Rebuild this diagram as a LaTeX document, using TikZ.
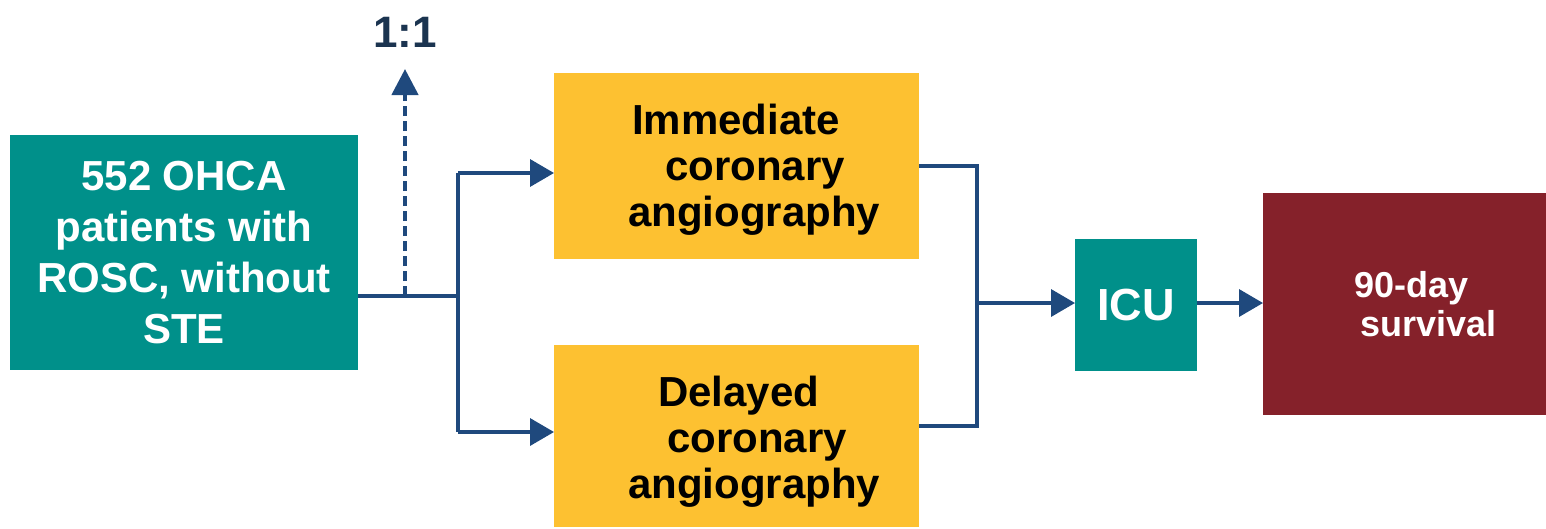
\documentclass[tikz,border=0pt]{standalone}
\usepackage{fontspec}
\setmainfont{Liberation Sans}
\usetikzlibrary{arrows.meta}
\definecolor{teal1}{HTML}{00908A}
\definecolor{gold1}{HTML}{FDC131}
\definecolor{wine}{HTML}{85212A}
\definecolor{navy}{HTML}{1F497D}
\definecolor{ink}{HTML}{1B3450}
\begin{document}
\begin{tikzpicture}[x=1pt,y=-1pt,
  box/.style={draw=none, inner sep=0pt, outer sep=0pt},
  ybox/.style={box, fill=gold1, minimum width=365pt},
  ytext/.style={inner sep=0pt, text=black, text width=305pt, align=left, font=\bfseries\fontsize{42}{46}\selectfont},
  conn/.style={draw=navy, line width=3.5pt},
  arr/.style={conn, -{Triangle[length=24pt,width=27pt]}}
]
\useasboundingbox (0,0) rectangle (1546,528);

\node[box, fill=teal1, text=white, minimum width=348pt, minimum height=235pt, align=center, font=\bfseries\fontsize{42}{51}\selectfont] (src) at (184,252.5) {552 OHCA\\patients with\\ROSC, without\\STE};

\node[ybox, minimum height=186pt] (imm) at (736.5,166) {};
\node[ytext] (immt) at ([yshift=-4pt]imm.center) {\hspace*{48pt}Immediate\\\hspace*{81pt}coronary\\\hspace*{44pt}angiography};

\node[ybox, minimum height=182pt] (del) at (736.5,436) {};
\node[ytext] (delt) at ([yshift=-6pt]del.center) {\hspace*{74pt}Delayed\\\hspace*{83pt}coronary\\\hspace*{44pt}angiography};

\node[box, fill=teal1, text=white, minimum width=122pt, minimum height=132pt, font=\bfseries\fontsize{45}{50}\selectfont] (icu) at (1136,305) {ICU};

\node[box, fill=wine, text=white, minimum width=283pt, minimum height=222pt, text width=243pt, inner xsep=20pt, align=left, font=\bfseries\fontsize{36}{39}\selectfont] (surv) at (1404.5,304) {\hspace*{71pt}90-day\\\hspace*{77pt}survival};

\node[anchor=base, inner sep=0pt, text=ink, font=\bfseries\fontsize{44}{48}\selectfont] (ratio) at (405,47) {1:1};

\coordinate (split) at (458,296);
\coordinate (rand) at (405,296);
\coordinate (rtip) at (405,69);
\coordinate (up) at (458,173);
\coordinate (dn) at (458,432);
\coordinate (jt) at (977,166);
\coordinate (jb) at (977,426);
\coordinate (join) at (977,303);

\draw[conn] (src.east |- split) -- (split);
\draw[conn] (up) -- (dn);
\draw[arr] (up) -- (imm.west |- up);
\draw[arr] (dn) -- (del.west |- dn);
\draw[conn, line width=4.5pt, dash pattern=on 10pt off 5pt, -{Triangle[length=26pt,width=26pt]}] (rand) -- (rtip);
\draw[conn] (imm.east |- jt) -- (jt) -- (jb) -- (del.east |- jb);
\draw[arr] (join) -- (icu.west |- join);
\draw[arr] (icu.east |- join) -- (surv.west |- join);
\end{tikzpicture}
\end{document}
